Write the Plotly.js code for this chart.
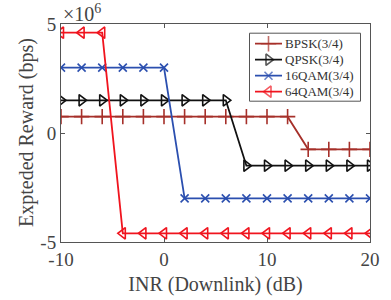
<!DOCTYPE html>
<html>
<head>
<meta charset="utf-8">
<script src="https://cdn.plot.ly/plotly-3.0.1.min.js"></script>
<style>html,body{margin:0;padding:0;background:#fff;}#chart{width:391px;height:300px;}</style>
</head>
<body>
<div id="chart"></div>
<script>
const inr = [-10,-8,-6,-4,-2,0,2,4,6,8,10,12,14,16,18,20];
const bpsk = [0.75e6,0.75e6,0.75e6,0.75e6,0.75e6,0.75e6,0.75e6,0.75e6,0.75e6,0.75e6,0.75e6,0.75e6,-0.75e6,-0.75e6,-0.75e6,-0.75e6];
const qpsk = [1.5e6,1.5e6,1.5e6,1.5e6,1.5e6,1.5e6,1.5e6,1.5e6,1.5e6,-1.5e6,-1.5e6,-1.5e6,-1.5e6,-1.5e6,-1.5e6,-1.5e6];
const qam16 = [3e6,3e6,3e6,3e6,3e6,3e6,-3e6,-3e6,-3e6,-3e6,-3e6,-3e6,-3e6,-3e6,-3e6,-3e6];
const qam64 = [4.6e6,4.6e6,4.6e6,-4.6e6,-4.6e6,-4.6e6,-4.6e6,-4.6e6,-4.6e6,-4.6e6,-4.6e6,-4.6e6,-4.6e6,-4.6e6,-4.6e6,-4.6e6];
const names = ['BPSK(3/4)','QPSK(3/4)','16QAM(3/4)','64QAM(3/4)'];
const xTicks = [-10,0,10,20];
const xTickText = ['-10','0','10','20'];
const yTicks = [-5e6,0,5e6];
const yTickText = ['-5','0','5'];
const xTitle = 'INR (Downlink) (dB)';
const yTitle = 'Expteded Reward (bps)';

const font = 'Liberation Serif, Times New Roman, serif';
const colors = ['#A6302A', '#111111', '#2B4FAF', '#F0141E'];
const symbols = ['cross-thin-open', 'triangle-right-open', 'x-thin-open', 'triangle-left-open'];
const sizes = [11, 10, 8, 10];
const series = [bpsk, qpsk, qam16, qam64];

const data = series.map((y, i) => ({
  x: inr, y: y, name: names[i], type: 'scatter', mode: 'lines+markers',
  line: {color: colors[i], width: 1.8},
  marker: {symbol: symbols[i], size: sizes[i], color: colors[i], line: {color: colors[i], width: 1.6}},
  showlegend: false
}));

// custom legend samples (own small axes)
const rowY = [0.875, 0.625, 0.375, 0.125];
series.forEach((y, i) => {
  data.push({
    x: [0, 0.5, 1], y: [rowY[i], rowY[i], rowY[i]], xaxis: 'x2', yaxis: 'y2',
    type: 'scatter', mode: 'lines+markers', showlegend: false, hoverinfo: 'skip',
    line: {color: colors[i], width: 1.8},
    marker: {symbol: symbols[i], size: [0, sizes[i], 0], color: colors[i], line: {color: colors[i], width: 1.6}}
  });
});

const axisCommon = {
  showline: true, mirror: 'ticks', linecolor: '#555', linewidth: 1,
  ticks: 'inside', ticklen: 4, tickcolor: '#555', showgrid: false, zeroline: false,
  tickfont: {family: font, size: 19, color: '#444'}
};
const px = v => (v - 61) / 309;
const py = v => (242.3 - v) / 218;

const annotations = [{
  xref: 'paper', yref: 'paper', x: 0, y: 1, xanchor: 'left', yanchor: 'bottom',
  text: '×10<sup>6</sup>', showarrow: false, xshift: 0, yshift: -3,
  font: {family: font, size: 20, color: '#444'}
}, {
  xref: 'paper', yref: 'paper', x: px(26), y: 0.5, xanchor: 'center', yanchor: 'middle',
  text: yTitle, textangle: -90, showarrow: false,
  font: {family: font, size: 20, color: '#444'}
}];
names.forEach((n, i) => {
  annotations.push({
    xref: 'paper', yref: 'y2', x: px(283), y: rowY[i], xanchor: 'left', yanchor: 'middle',
    text: n, showarrow: false, font: {family: font, size: 13, color: '#333'}
  });
});

const layout = {
  width: 391, height: 300,
  margin: {l: 61, r: 21, t: 24, b: 58},
  paper_bgcolor: '#fff', plot_bgcolor: 'rgba(0,0,0,0)',
  font: {family: font, color: '#444'},
  showlegend: false,
  xaxis: Object.assign({}, axisCommon, {
    range: [-10, 20], tickvals: xTicks, ticktext: xTickText,
    title: {text: xTitle, font: {family: font, size: 20, color: '#444'}, standoff: 8}
  }),
  yaxis: Object.assign({}, axisCommon, {
    range: [-5e6, 5e6], tickvals: yTicks, ticktext: yTickText
  }),
  xaxis2: {domain: [px(255), px(282)], range: [0, 1], anchor: 'y2', visible: false, fixedrange: true},
  yaxis2: {domain: [py(100), py(36)], range: [0, 1], anchor: 'x2', visible: false, fixedrange: true},
  shapes: [{
    type: 'rect', xref: 'paper', yref: 'paper', layer: 'below',
    x0: px(249.5), x1: px(360.5), y0: py(101.5), y1: py(33.5),
    line: {color: '#555', width: 1}, fillcolor: '#fff'
  }],
  annotations: annotations
};
Plotly.newPlot('chart', data, layout, {staticPlot: true, displayModeBar: false});
</script>
</body>
</html>
